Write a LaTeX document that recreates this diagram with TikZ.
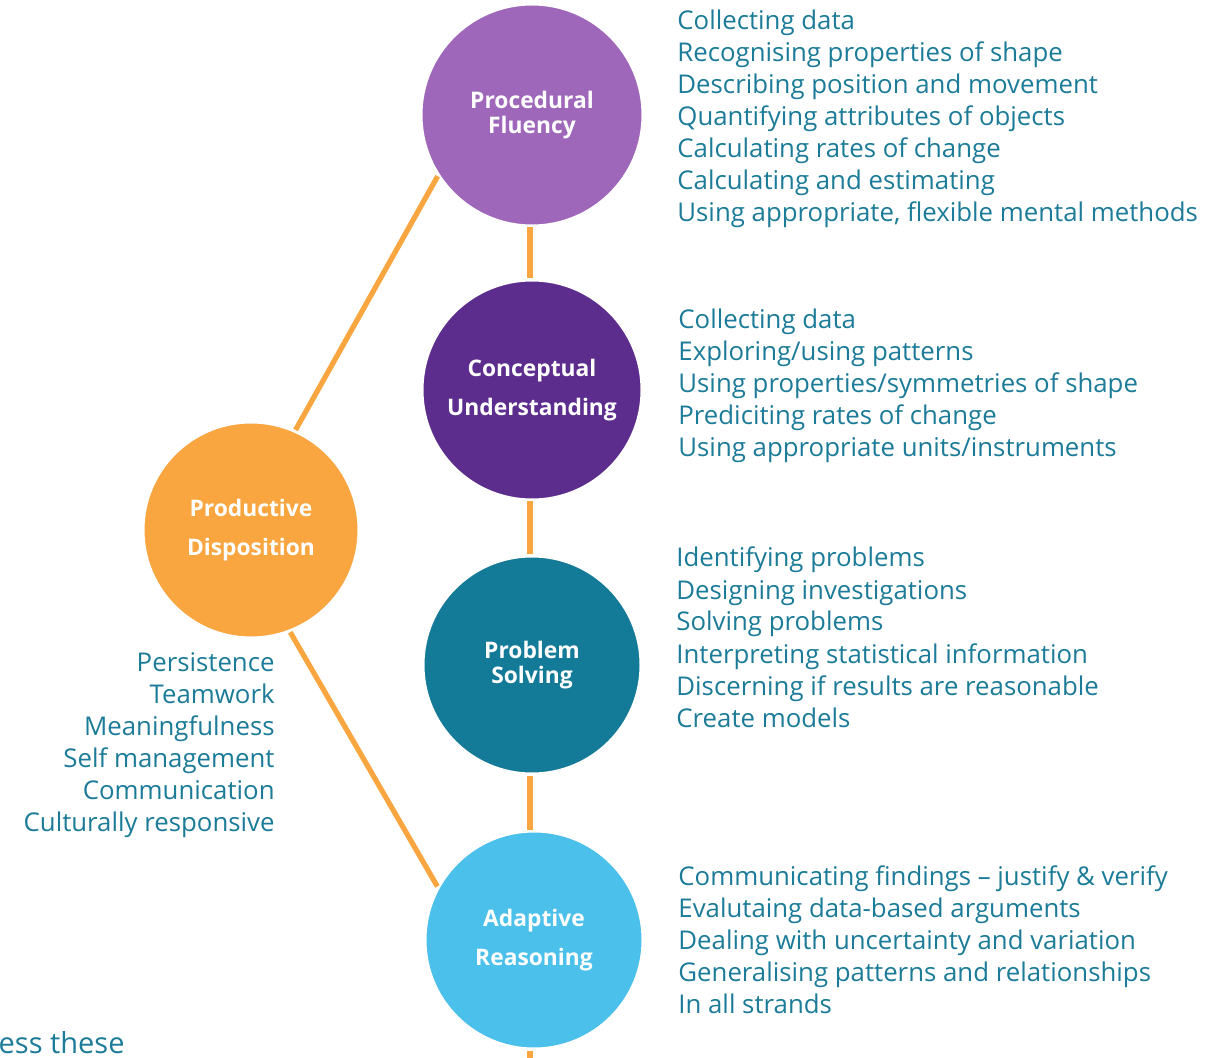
\documentclass[tikz,border=0pt]{standalone}
\usepackage{fontspec}
\setmainfont{Open Sans}
\usetikzlibrary{positioning}
\definecolor{procpurple}{HTML}{9E67BA}
\definecolor{concpurple}{HTML}{5D2D8E}
\definecolor{probteal}{HTML}{137A98}
\definecolor{adapblue}{HTML}{4BC0EA}
\definecolor{prodorange}{HTML}{F9A540}
\definecolor{itemteal}{HTML}{1B7B98}
\tikzset{
  strand/.style={circle, draw=white, line width=1.5pt, inner sep=0,
    text=white, align=center, font=\bfseries\fontsize{11.4}{12.8}\selectfont},
  wide/.style={font=\bfseries\fontsize{11.4}{19.5}\selectfont},
  link/.style={draw=prodorange, line width=2.6pt},
  item/.style={inner sep=0, text=itemteal, font=\fontsize{12.9}{14}\selectfont}
}

\begin{document}
\begin{tikzpicture}[x=0.5pt,y=-0.5pt]
  \useasboundingbox (0,0) rectangle (1231,1058);

  % strands
  \node[strand, fill=procpurple, minimum size=111pt] (proc) at (532,115) {Procedural\\Fluency};
  \node[strand, wide, fill=concpurple, minimum size=110pt] (conc) at (532,390) {Conceptual\\Understanding};
  \node[strand, fill=probteal, minimum size=109pt] (prob) at (532,665) {Problem\\Solving};
  \node[strand, wide, fill=adapblue, minimum size=109pt] (adap) at (534,940) {Adaptive\\Reasoning};
  \node[strand, wide, fill=prodorange, minimum size=108pt] (prod) at (251,530) {Productive\\Disposition};

  % links
  \coordinate (tail) at (530,1070);
  \draw[link] (proc.south -| tail) -- (conc.north -| tail);
  \draw[link] (conc.south -| tail) -- (prob.north -| tail);
  \draw[link] (prob.south -| tail) -- (adap.north -| tail);
  \draw[link] (adap.south -| tail) -- (tail);
  \draw[link] (prod.66) -- (proc.213);
  \draw[link] (prod.-69) -- (adap.151);

  % lists
  \foreach \t [count=\i] in {Collecting data, Recognising properties of shape,
      Describing position and movement, Quantifying attributes of objects,
      Calculating rates of change, Calculating and estimating,
      {Using appropriate, flexible mental methods}}
    \node[item, anchor=base west] (pf\i) at (677,{30+32*(\i-1)}) {\t};
  \foreach \t [count=\i] in {Collecting data, Exploring/using patterns,
      Using properties/symmetries of shape, Prediciting rates of change,
      Using appropriate units/instruments}
    \node[item, anchor=base west] (cu\i) at (678,{329+32*(\i-1)}) {\t};
  \foreach \t [count=\i] in {Identifying problems, Designing investigations,
      Solving problems, Interpreting statistical information,
      Discerning if results are reasonable, Create models}
    \node[item, anchor=base west] (ps\i) at (676,{567+32*(\i-1)}) {\t};
  \foreach \t [count=\i] in {Communicating findings -- justify \& verify,
      Evalutaing data-based arguments, Dealing with uncertainty and variation,
      Generalising patterns and relationships, In all strands}
    \node[item, anchor=base west] (ar\i) at (678,{885+32*(\i-1)}) {\t};
  \foreach \t [count=\i] in {Persistence, Teamwork, Meaningfulness,
      Self management, Communication, Culturally responsive}
    \node[item, anchor=base east] (pd\i) at (275,{671+32*(\i-1)}) {\t};

  \node[item, anchor=base east, font=\fontsize{14.5}{18}\selectfont] (cut) at (125,1053) {ess these};
\end{tikzpicture}
\end{document}
